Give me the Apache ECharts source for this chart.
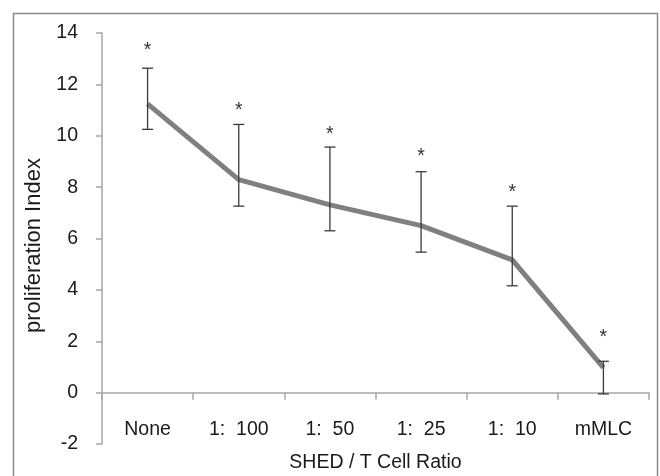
<!DOCTYPE html>
<html>
<head>
<meta charset="utf-8">
<script src="https://cdn.jsdelivr.net/npm/echarts@6/dist/echarts.min.js"></script>
<style>html,body{margin:0;padding:0;background:#fff;}#c{width:660px;height:476px;}</style>
</head>
<body>
<div id="c"></div>
<script>
var categories = ['None', '1:  100', '1:  50', '1:  25', '1:  10', 'mMLC'];
var values = [11.24, 8.29, 7.31, 6.5, 5.17, 0.97];
var upper = [12.63, 10.44, 9.56, 8.6, 7.26, 1.22];
var lower = [10.25, 7.26, 6.3, 5.47, 4.16, -0.05];
var starY = [13.47, 11.17, 10.2, 9.35, 7.98, 2.3];
var yTicks = [-2, 0, 2, 4, 6, 8, 10, 12, 14];
var yMin = -2, yMax = 14, yStep = 2;

var FONT = 'Liberation Sans, Arial, sans-serif';
var GRID_TOP = 33, GRID_BOTTOM = 32, H = 476;
var plotH = H - GRID_TOP - GRID_BOTTOM;
// x axis sits on the zero line: shift it up from the grid bottom by the -2..0 span
var zeroOffset = -plotH * (0 - yMin) / (yMax - yMin);

var chart = echarts.init(document.getElementById('c'), null, {renderer: 'canvas'});

var errData = categories.map(function (c, i) { return [i, lower[i], upper[i]]; });
var starData = categories.map(function (c, i) { return [i, starY[i]]; });

chart.setOption({
  animation: false,
  backgroundColor: '#ffffff',
  graphic: [{
    type: 'rect',
    shape: {x: 13.5, y: 13.5, width: 644, height: 500},
    style: {fill: 'none', stroke: '#8a8a8a', lineWidth: 1.5},
    silent: true
  }],
  grid: {left: 102, right: 11, top: GRID_TOP, bottom: GRID_BOTTOM, containLabel: false, outerBoundsMode: 'none'},
  xAxis: {
    type: 'category',
    data: categories,
    boundaryGap: true,
    position: 'bottom',
    offset: zeroOffset,
    axisLine: {onZero: false, lineStyle: {color: '#a6a6a6', width: 1.5}},
    axisTick: {show: true, inside: false, length: 7, alignWithLabel: false, interval: 0, lineStyle: {color: '#a6a6a6', width: 1.5}},
    axisLabel: {margin: 27, color: '#1a1a1a', fontFamily: FONT, fontSize: 19.5, interval: 0},
    name: 'SHED / T Cell Ratio',
    nameLocation: 'middle',
    nameGap: 60,
    nameTextStyle: {color: '#1a1a1a', fontFamily: FONT, fontSize: 19.5},
    splitLine: {show: false}
  },
  yAxis: {
    type: 'value',
    min: yMin, max: yMax, interval: yStep,
    axisLine: {show: true, lineStyle: {color: '#a6a6a6', width: 1.5}},
    axisTick: {show: true, inside: false, length: 6, lineStyle: {color: '#a6a6a6', width: 1.5}},
    axisLabel: {margin: 24, color: '#1a1a1a', fontFamily: FONT, fontSize: 19.5,
      formatter: function (v) { return yTicks.indexOf(v) >= 0 ? String(v) : ''; }},
    splitLine: {show: false},
    name: 'proliferation Index',
    nameLocation: 'middle',
    nameGap: 50,
    nameTextStyle: {color: '#1a1a1a', fontFamily: FONT, fontSize: 22, padding: [0, 14, 0, 0]}
  },
  series: [
    {
      type: 'line',
      data: values,
      symbol: 'none',
      lineStyle: {color: '#808080', width: 5},
      z: 2
    },
    {
      type: 'custom',
      data: errData,
      z: 3,
      renderItem: function (params, api) {
        var x = api.coord([api.value(0), api.value(1)])[0];
        var lo = api.coord([api.value(0), api.value(1)])[1];
        var hi = api.coord([api.value(0), api.value(2)])[1];
        var hw = 5.5;
        var st = {stroke: '#3a3a3a', lineWidth: 1.3};
        return {
          type: 'group',
          children: [
            {type: 'line', shape: {x1: x, y1: lo, x2: x, y2: hi}, style: st},
            {type: 'line', shape: {x1: x - hw, y1: hi, x2: x + hw, y2: hi}, style: st},
            {type: 'line', shape: {x1: x - hw, y1: lo, x2: x + hw, y2: lo}, style: st}
          ]
        };
      }
    },
    {
      type: 'custom',
      data: starData,
      z: 4,
      renderItem: function (params, api) {
        var p = api.coord([api.value(0), api.value(1)]);
        return {
          type: 'text',
          x: p[0], y: p[1] + 4.5,
          style: {text: '*', fill: '#333333', font: '19.5px ' + FONT, align: 'center', verticalAlign: 'middle'}
        };
      }
    }
  ]
});
</script>
</body>
</html>
